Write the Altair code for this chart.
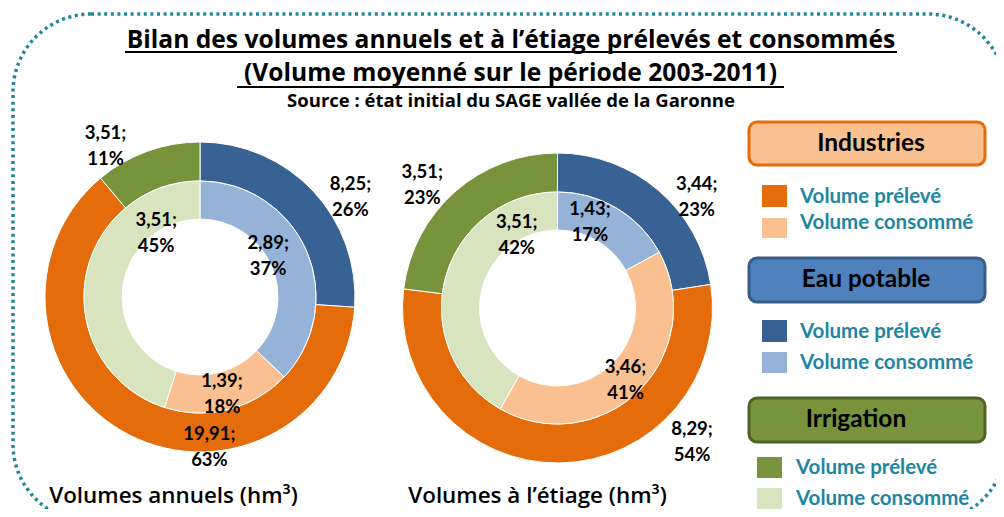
import altair as alt
import pandas as pd

# ---------------- data ----------------
sectors = ["Eau potable", "Industries", "Irrigation"]
annuel_preleve = [8.25, 19.91, 3.51]
annuel_consomme = [2.89, 1.39, 3.51]
etiage_preleve = [3.44, 8.29, 3.51]
etiage_consomme = [1.43, 3.46, 3.51]
kinds = ["Volume prélevé", "Volume consommé"]

title_1 = "Bilan des volumes annuels et à l’étiage prélevés et consommés"
title_2 = "(Volume moyenné sur le période 2003-2011)"
source = "Source : état initial  du SAGE vallée de la Garonne"
sub_1 = "Volumes annuels (hm³)"
sub_2 = "Volumes à l’étiage (hm³)"

# ---------------- styles ----------------
FONT = "Lato"
FONT_T = "Open Sans"
dark = {"Eau potable": "#386194", "Industries": "#E46C0A", "Irrigation": "#77933C"}
light = {"Eau potable": "#95B3D7", "Industries": "#FAC090", "Irrigation": "#D7E4BD"}
box_fill = {"Industries": "#FAC090", "Eau potable": "#4F81BD", "Irrigation": "#77933C"}
box_stroke = {"Industries": "#E46C0A", "Eau potable": "#385D8A", "Irrigation": "#4F6228"}
TEAL = "#1E86A1"

keys, cols = [], []
for s in sectors:
    keys += [f"{s} - {kinds[0]}", f"{s} - {kinds[1]}"]
    cols += [dark[s], light[s]]
color_scale = alt.Scale(domain=keys, range=cols)


def ring_df(values, kind):
    total = sum(values)
    rows, cum = [], 0.0
    for i, (s, v) in enumerate(zip(sectors, values)):
        pct = round(100 * v / total)
        rows.append(dict(secteur=s, key=f"{s} - {kind}", value=v, ord=i,
                         mid=cum + v / 2,
                         label=f"{v:.2f}".replace(".", ",") + ";\n" + f"{pct}%"))
        cum += v
    return pd.DataFrame(rows), total


def P(v):
    return v - 8  # page -> chart coordinates


layers = []

# ---------------- donuts ----------------
LBL_DY = -11
donuts = [
    (annuel_preleve, annuel_consomme, (P(200), P(297)),
     [(19, 21), (91, -12), (-33, 16)], [(-21, -5), (-2, 1), (52, -51)]),
    (etiage_preleve, etiage_consomme, (P(557.5), P(308)),
     [(22, 24), (132, -48), (-16, 10)], [(-17, -5), (0, 1), (53, -50)]),
]
R_OUT, R_MID, R_IN = 155, 116, 78
for outer_vals, inner_vals, (cx, cy), nud_o, nud_i in donuts:
    for vals, kind, ri, ro, rlab, nud in [
        (outer_vals, kinds[0], R_MID, R_OUT, 180, nud_o),
        (inner_vals, kinds[1], R_IN, R_MID, 97, nud_i),
    ]:
        df, total = ring_df(vals, kind)
        layers.append(
            alt.Chart(df).mark_arc(innerRadius=ri, outerRadius=ro, stroke="white", strokeWidth=1).encode(
                theta=alt.Theta("value:Q", stack=True),
                order=alt.Order("ord:Q"),
                color=alt.Color("key:N", scale=color_scale, legend=None),
                x=alt.value(cx), y=alt.value(cy),
            )
        )
        for i in range(len(sectors)):
            dx, dy = nud[i]
            layers.append(
                alt.Chart(df).transform_filter(alt.datum.ord == i).mark_text(
                    radius=rlab, dx=dx, dy=dy + LBL_DY, lineBreak="\n", lineHeight=26,
                    font=FONT, fontSize=18.5, fontWeight="bold", color="black",
                    align="center", baseline="middle",
                ).encode(
                    theta=alt.Theta("mid:Q", scale=alt.Scale(domain=[0, total])),
                    text="label:N",
                    x=alt.value(cx), y=alt.value(cy),
                )
            )

one = pd.DataFrame({"d": [0]})
base = alt.Chart(one)

# ---------------- dotted frame ----------------
layers.insert(0, base.mark_rect(filled=False, stroke=TEAL, strokeWidth=3.5, strokeDash=[3, 3.6],
                                cornerRadius=78).encode(
    x=alt.value(P(13)), x2=alt.value(P(1006)), y=alt.value(P(14)), y2=alt.value(P(522))))


# ---------------- titles ----------------
def text_at(txt, x, y, size, weight="bold", color="black", align="center",
            baseline="alphabetic", font=FONT):
    return base.mark_text(font=font, fontSize=size, fontWeight=weight, color=color,
                          align=align, baseline=baseline).encode(
        text=alt.value(txt), x=alt.value(x), y=alt.value(y))


layers.append(text_at(title_1, P(511), P(48), 24.6, font=FONT_T))
layers.append(base.mark_rule(color="black", strokeWidth=2).encode(
    x=alt.value(P(125)), x2=alt.value(P(897)), y=alt.value(P(52))))
layers.append(text_at(title_2, P(510.5), P(81), 24.6, font=FONT_T))
layers.append(base.mark_rule(color="black", strokeWidth=2).encode(
    x=alt.value(P(237)), x2=alt.value(P(784)), y=alt.value(P(87))))
layers.append(text_at(source, P(511), P(107), 18.5, font=FONT_T))

layers.append(text_at(sub_1, P(173.5), P(503), 22.4, weight=600, font=FONT_T))
layers.append(text_at(sub_2, P(537.5), P(503), 22.4, weight=600, font=FONT_T))

# ---------------- legend ----------------
legend_groups = [
    ("Industries", 122, 165, 871, 800, [(185, 207, 203), (218, 238, 229)], (762, 787)),
    ("Eau potable", 258, 302, 866, 800, [(320, 342, 338), (352, 373, 369)], (762, 787)),
    ("Irrigation", 398, 442, 856, 796, [(457, 478, 474), (488, 510, 505)], (757, 782)),
]
for name, y0, y1, tx, lx, items, (sx0, sx1) in legend_groups:
    layers.append(base.mark_rect(fill=box_fill[name], stroke=box_stroke[name], strokeWidth=3,
                                 cornerRadius=8).encode(
        x=alt.value(P(749)), x2=alt.value(P(985)), y=alt.value(P(y0)), y2=alt.value(P(y1))))
    layers.append(text_at(name, P(tx), P((y0 + y1) / 2), 24.5, baseline="middle"))
    for (iy0, iy1, tb), kind in zip(items, kinds):
        key = f"{name} - {kind}"
        layers.append(alt.Chart(pd.DataFrame({"key": [key]})).mark_rect().encode(
            x=alt.value(P(sx0)), x2=alt.value(P(sx1)), y=alt.value(P(iy0)), y2=alt.value(P(iy1)),
            color=alt.Color("key:N", scale=color_scale, legend=None)))
        layers.append(text_at(kind, P(lx), P(tb), 20.5, color=TEAL, align="left"))

chart = alt.layer(*layers).resolve_scale(theta="independent").properties(
    width=988, height=501, padding=0,
    autosize=alt.AutoSizeParams(type="none"),
    background="white",
).configure_view(strokeWidth=0)

chart.save("out.html", embed_options={"renderer": "svg", "actions": False})
